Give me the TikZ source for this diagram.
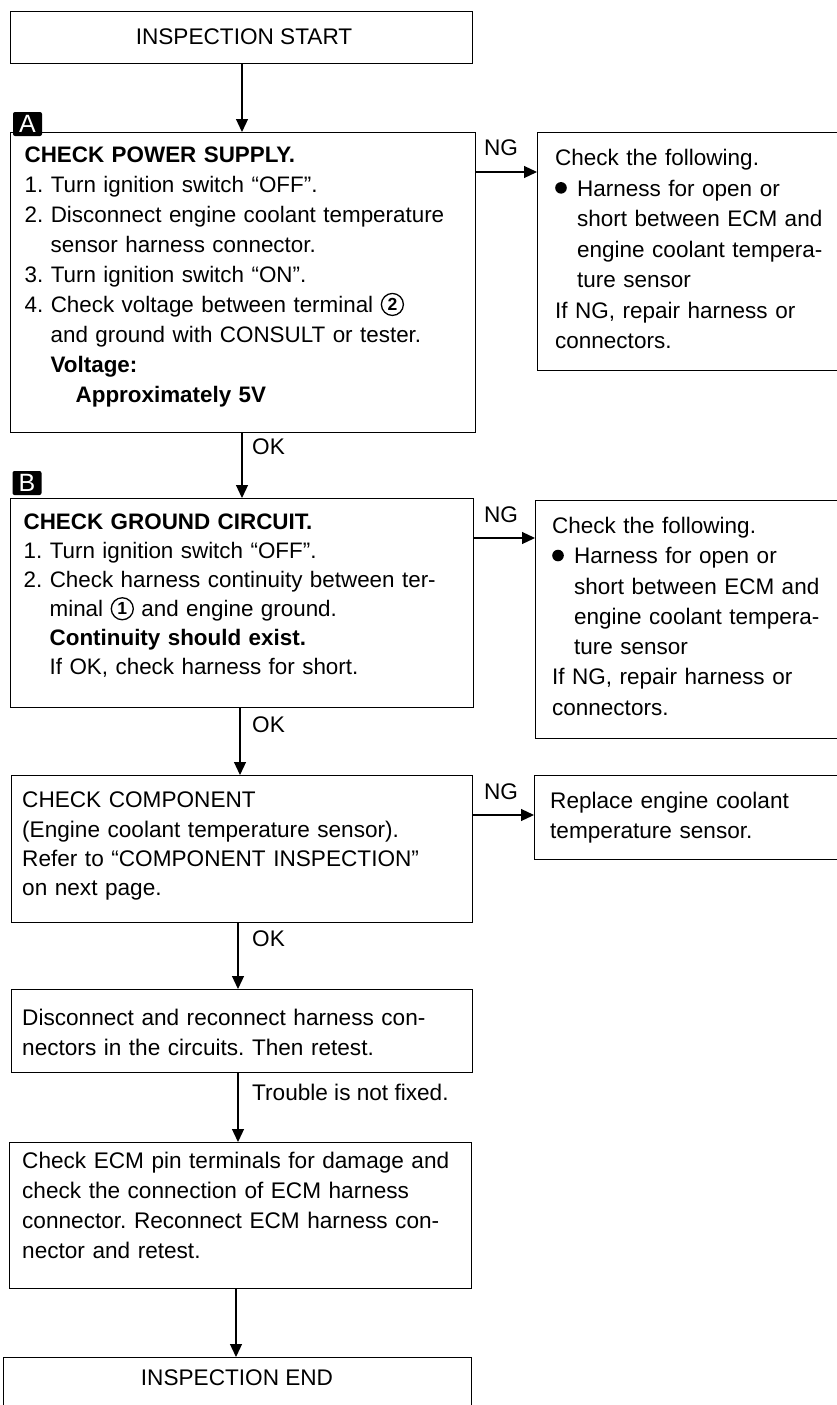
\documentclass[tikz,border=0pt]{standalone}
\usepackage{fontspec}
\setmainfont{Liberation Sans}
\usetikzlibrary{arrows.meta}
\frenchspacing
\newcommand\cnum[1]{\begin{pgfpicture}\pgfsetbaseline{0pt}\pgfsetlinewidth{1.3pt}\pgfpathcircle{\pgfpoint{11.5pt}{8.2pt}}{11pt}\pgfusepath{stroke}\pgftext[x=11.5pt,y=8.2pt]{\fontsize{17.5}{17.5}\selectfont\bfseries #1}\end{pgfpicture}}
\newcommand\bul{\begin{pgfpicture}\pgfsetbaseline{0pt}\pgfpathcircle{\pgfpoint{5.8pt}{8.2pt}}{5.8pt}\pgfusepath{fill}\end{pgfpicture}}
\tikzset{
  box/.style={draw, line width=1.3pt, inner sep=0pt, anchor=north west},
  txt/.style={anchor=north west, inner sep=0pt, align=left, text width=520pt},
  lbl/.style={inner sep=0pt, font=\fontsize{22.6}{22.6}\selectfont},
  arr/.style={line width=1.2pt, -{Triangle[length=13pt,width=12pt]}},
  tag/.style={fill=black, text=white, rounded corners=2pt, minimum width=29pt, minimum height=24pt, inner sep=0pt, font=\fontsize{25}{25}\selectfont}
}
\begin{document}
\begin{tikzpicture}[x=1pt,y=-1pt]
\path[use as bounding box, fill=white] (0,0) rectangle (836,1405);
% boxes
\node[box, minimum width=462pt, minimum height=52pt] (start) at (10,11) {};
\node[box, minimum width=465pt, minimum height=300pt] (A) at (10,132) {};
\node[box, minimum width=330pt, minimum height=238pt] (r1) at (537,132) {};
\node[box, minimum width=463pt, minimum height=209pt] (B) at (10,498) {};
\node[box, minimum width=330pt, minimum height=238pt] (r2) at (535,500) {};
\node[box, minimum width=461pt, minimum height=147pt] (C) at (11,775) {};
\node[box, minimum width=330pt, minimum height=84pt] (r3) at (534,775) {};
\node[box, minimum width=461pt, minimum height=83pt] (D) at (11,989) {};
\node[box, minimum width=462pt, minimum height=146pt] (E) at (9,1142) {};
\node[box, minimum width=468pt, minimum height=80pt] (end) at (3,1357) {};
% tags
\node[tag] (labA) at (27.5,124) {A};
\node[tag] (labB) at (27,483) {B};
% texts
\node[lbl] (tstart) at (244,37) {INSPECTION START};
\node[lbl] (tend) at (237,1378) {INSPECTION END};
\node[txt, font=\fontsize{22.4}{30}\selectfont] (tA) at (24,141) {\strut\textbf{CHECK POWER SUPPLY.}\\
1. Turn ignition switch “OFF”.\\
2. Disconnect engine coolant temperature\\
\hspace*{26pt}sensor harness connector.\\
3. Turn ignition switch “ON”.\\
4. Check voltage between terminal \cnum{2}\\
\hspace*{26pt}and ground with CONSULT or tester.\\
\hspace*{26pt}\textbf{Voltage:}\\
\hspace*{51pt}\textbf{Approximately 5V}};
\node[txt, font=\fontsize{22.5}{30.5}\selectfont] (tr1) at (555,144) {\strut Check the following.\\
\makebox[22pt][l]{\bul}Harness for open or\\
\hspace*{22pt}short between ECM and\\
\hspace*{22pt}engine coolant tempera-\\
\hspace*{22pt}ture sensor\\
If NG, repair harness or\\
connectors.};
\node[txt, font=\fontsize{22.4}{29}\selectfont] (tB) at (23,509) {\strut\textbf{CHECK GROUND CIRCUIT.}\\
1. Turn ignition switch “OFF”.\\
2. Check harness continuity between ter-\\
\hspace*{26pt}minal \cnum{1} and engine ground.\\
\hspace*{26pt}\textbf{Continuity should exist.}\\
\hspace*{26pt}If OK, check harness for short.};
\node[txt, font=\fontsize{22.5}{30.3}\selectfont] (tr2) at (552,512) {\strut Check the following.\\
\makebox[22pt][l]{\bul}Harness for open or\\
\hspace*{22pt}short between ECM and\\
\hspace*{22pt}engine coolant tempera-\\
\hspace*{22pt}ture sensor\\
If NG, repair harness or\\
connectors.};
\node[txt, font=\fontsize{22.6}{29.3}\selectfont] (tC) at (22,787) {\strut CHECK COMPONENT\\
(Engine coolant temperature sensor).\\
Refer to “COMPONENT INSPECTION”\\
on next page.};
\node[txt, font=\fontsize{22.6}{30}\selectfont] (tr3) at (550,787) {\strut Replace engine coolant\\
temperature sensor.};
\node[txt, font=\fontsize{22.6}{30}\selectfont] (tD) at (22,1004) {\strut Disconnect and reconnect harness con-\\
nectors in the circuits. Then retest.};
\node[txt, font=\fontsize{22.6}{30}\selectfont] (tE) at (22,1147) {\strut Check ECM pin terminals for damage and\\
check the connection of ECM harness\\
connector. Reconnect ECM harness con-\\
nector and retest.};
% connector coordinates
\coordinate (x1) at (242,0);
\coordinate (x2) at (242,0);
\coordinate (x3) at (240,0);
\coordinate (x4) at (238,0);
\coordinate (x5) at (238,0);
\coordinate (x6) at (236,0);
\coordinate (y1) at (0,172);
\coordinate (y2) at (0,538);
\coordinate (y3) at (0,815);
% vertical connectors
\draw[arr] (start.south -| x1) -- (A.north -| x1);
\draw[arr] (A.south -| x2) -- (B.north -| x2);
\draw[arr] (B.south -| x3) -- (C.north -| x3);
\draw[arr] (C.south -| x4) -- (D.north -| x4);
\draw[arr] (D.south -| x5) -- (E.north -| x5);
\draw[arr] (E.south -| x6) -- (end.north -| x6);
% horizontal connectors
\draw[arr] (A.east |- y1) -- (r1.west |- y1);
\draw[arr] (B.east |- y2) -- (r2.west |- y2);
\draw[arr] (C.east |- y3) -- (r3.west |- y3);
% connector labels
\node[lbl] (ng1) at (501,148) {NG};
\node[lbl] (ng2) at (501,515) {NG};
\node[lbl] (ng3) at (501,792) {NG};
\node[lbl, anchor=west] (ok1) at (252,447) {OK};
\node[lbl, anchor=west] (ok2) at (252,725) {OK};
\node[lbl, anchor=west] (ok3) at (252,939) {OK};
\node[lbl, anchor=west] (tr) at (252,1092) {Trouble is not fixed.};
\end{tikzpicture}
\end{document}
